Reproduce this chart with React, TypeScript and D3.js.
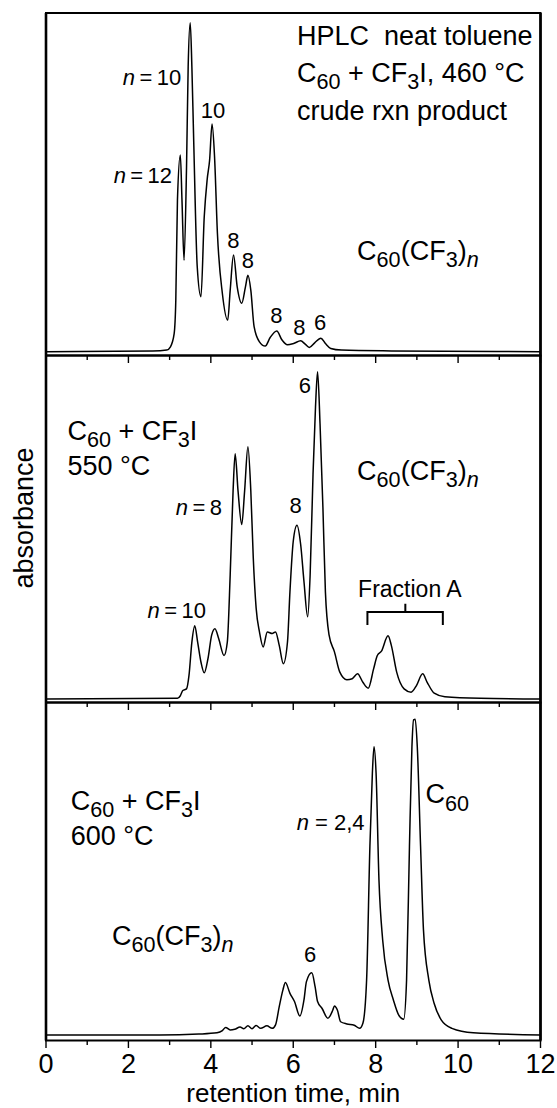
import * as d3 from 'd3';

// retention time (min), relative absorbance (0 = baseline, 100 = tallest peak of the panel)
const trace460: [number, number][] = [
  [0, 0], [2.59, 0.2], [2.93, 0.5], [3.02, 1.5], [3.11, 5.5], [3.15, 15.7], [3.19, 46.1],
  [3.26, 59.8], [3.3, 46], [3.35, 27.8], [3.41, 56], [3.45, 86.6], [3.5, 100], [3.54, 86.6],
  [3.58, 66.4], [3.67, 25.8], [3.76, 16.7], [3.84, 41], [3.91, 52.2], [3.97, 58.2], [4.03, 69.2],
  [4.09, 59.3], [4.16, 35.9], [4.28, 17.7], [4.41, 9.6], [4.47, 18.7], [4.55, 29.4], [4.64, 19.7],
  [4.75, 14.7], [4.84, 19.7], [4.9, 23.2], [4.97, 18.7], [5.05, 7.6], [5.18, 3.0], [5.32, 1.7],
  [5.44, 4.3], [5.6, 6.3], [5.72, 3.7], [5.86, 2.1], [6.01, 2.5], [6.18, 3.3], [6.29, 2.3],
  [6.39, 1.3], [6.52, 2.7], [6.67, 4.1], [6.78, 2.5], [6.91, 1.0], [7.17, 0.5], [8.38, 0.25], [12, 0],
];

const trace550: [number, number][] = [
  [0, 0], [3.19, 0.2], [3.26, 1], [3.32, 2.6], [3.41, 3.1], [3.47, 7.2], [3.54, 17.4], [3.61, 22.4],
  [3.68, 17.4], [3.76, 11.3], [3.84, 8], [3.93, 12.3], [4.02, 19.5], [4.1, 21.5], [4.19, 18.5],
  [4.32, 13.3], [4.4, 17.4], [4.47, 38], [4.54, 63.6], [4.59, 74.9], [4.66, 63.6], [4.75, 53.3],
  [4.82, 63.6], [4.9, 77.1], [4.97, 63.6], [5.03, 43.1], [5.1, 27.7], [5.18, 20.5], [5.27, 15.9],
  [5.37, 20.5], [5.49, 20], [5.57, 20.5], [5.66, 16.4], [5.76, 10.8], [5.86, 17.4], [5.92, 32.8],
  [6.0, 48.2], [6.09, 53.1], [6.18, 47.2], [6.26, 35.9], [6.35, 25.1], [6.41, 38], [6.48, 68.7],
  [6.54, 89.2], [6.59, 100], [6.65, 84.1], [6.72, 58.5], [6.78, 32.8], [6.87, 19.5], [7.0, 14.4],
  [7.13, 8.2], [7.3, 5.9], [7.43, 6.2], [7.56, 7.7], [7.69, 5.1], [7.82, 3.3], [7.95, 9.2],
  [8.04, 13.3], [8.14, 14.6], [8.3, 19.3], [8.38, 16.4], [8.51, 8.2], [8.69, 3.1], [8.86, 2.1],
  [8.99, 4.1], [9.14, 7.7], [9.25, 5.1], [9.42, 1.8], [9.68, 0.7], [10.54, 0.2], [12, 0],
];

const trace600: [number, number][] = [
  [0, 0], [2.76, 0], [3.71, 0.3], [4.15, 0.7], [4.28, 1.4], [4.36, 2.4], [4.47, 1.6], [4.58, 1.8],
  [4.71, 2.5], [4.8, 2.0], [4.9, 2.9], [5.0, 2.0], [5.1, 3.0], [5.21, 2.1], [5.36, 2.9], [5.49, 2.1],
  [5.57, 3.2], [5.66, 9], [5.75, 14.3], [5.81, 16.6], [5.92, 13.2], [6.03, 10.6], [6.16, 6.0],
  [6.26, 11.1], [6.32, 16.9], [6.45, 19.7], [6.53, 15.3], [6.59, 10.6], [6.7, 8.4], [6.84, 5.3],
  [6.96, 7.9], [7.0, 9.2], [7.07, 7.9], [7.15, 4.2], [7.3, 3.5], [7.48, 3.1], [7.61, 2.1],
  [7.69, 3.7], [7.78, 17.4], [7.86, 59.7], [7.92, 82.9], [7.96, 91.3], [8.01, 82.9], [8.08, 49.1],
  [8.17, 30.1], [8.3, 17.4], [8.43, 11.1], [8.56, 6.3], [8.68, 5.0], [8.75, 17.4], [8.82, 59.7],
  [8.88, 91.3], [8.92, 99.8], [8.96, 100], [9.01, 91.3], [9.09, 59.7], [9.16, 33.3], [9.29, 17.4],
  [9.42, 10], [9.59, 4.8], [9.85, 2.1], [10.37, 0.7], [12, 0],
];

const tickLabels = ['0', '2', '4', '6', '8', '10', '12'];

// annotation text: _{..} subscript, ~{..} italic, %{..} italic subscript
type Note = { text: string; t: number; v: number; kind: 'big' | 'small' | 'mid'; anchor?: string };

const notes460: Note[] = [
  { text: 'HPLC  neat toluene', t: 6.09, v: 93.2, kind: 'big' },
  { text: 'C_{60} + CF_{3}I, 460 °C', t: 6.09, v: 82.1, kind: 'big' },
  { text: 'crude rxn product', t: 6.09, v: 70.4, kind: 'big' },
  { text: 'C_{60}(CF_{3})%{n}', t: 7.55, v: 27.9, kind: 'big' },
  { text: '~{n}\u2009=\u200910', t: 3.28, v: 81.1, kind: 'small', anchor: 'end' },
  { text: '~{n}\u2009=\u200912', t: 3.06, v: 51.4, kind: 'small', anchor: 'end' },
  { text: '10', t: 4.05, v: 70.9, kind: 'small', anchor: 'middle' },
  { text: '8', t: 4.55, v: 31.4, kind: 'small', anchor: 'middle' },
  { text: '8', t: 4.9, v: 25.3, kind: 'small', anchor: 'middle' },
  { text: '8', t: 5.59, v: 8.6, kind: 'small', anchor: 'middle' },
  { text: '8', t: 6.15, v: 5.1, kind: 'small', anchor: 'middle' },
  { text: '6', t: 6.65, v: 6.6, kind: 'small', anchor: 'middle' },
];

const notes550: Note[] = [
  { text: 'C_{60} + CF_{3}I', t: 0.52, v: 79.1, kind: 'big' },
  { text: '550 °C', t: 0.52, v: 68.4, kind: 'big' },
  { text: 'C_{60}(CF_{3})%{n}', t: 7.55, v: 66.9, kind: 'big' },
  { text: '6', t: 6.28, v: 93.6, kind: 'small', anchor: 'middle' },
  { text: '~{n}\u2009=\u20098', t: 4.27, v: 56.2, kind: 'small', anchor: 'end' },
  { text: '8', t: 6.06, v: 56.7, kind: 'small', anchor: 'middle' },
  { text: '~{n}\u2009=\u200910', t: 3.88, v: 24.7, kind: 'small', anchor: 'end' },
  { text: 'Fraction A', t: 8.83, v: 31.3, kind: 'mid', anchor: 'middle' },
];

const notes600: Note[] = [
  { text: 'C_{60} + CF_{3}I', t: 0.6, v: 71.3, kind: 'big' },
  { text: '600 °C', t: 0.6, v: 60.2, kind: 'big' },
  { text: '~{n} = 2,4', t: 7.73, v: 64.9, kind: 'small', anchor: 'end' },
  { text: 'C_{60}', t: 9.21, v: 73.4, kind: 'big' },
  { text: 'C_{60}(CF_{3})%{n}', t: 1.6, v: 28.5, kind: 'big' },
  { text: '6', t: 6.41, v: 23.2, kind: 'small', anchor: 'middle' },
];

// Fraction A bracket: start, centre, end (min); bar level, leg bottom, stem top
const fractionA = { t0: 7.8, tc: 8.72, t1: 9.63, bar: 26.6, leg: 22.6, stem: 29.1 };

const W = 557;
const H = 1108;
const FONT = 'Liberation Sans, Arial, Helvetica, sans-serif';
const sizes = { big: 27, mid: 23, small: 22 };

const x = d3.scaleLinear().domain([0, 12]).range([46, 540.5]);

const panels = [
  { trace: trace460, notes: notes460, top: 13, bottom: 355.5, y: d3.scaleLinear().domain([0, 100]).range([351.7, 22.7]) },
  { trace: trace550, notes: notes550, top: 355.5, bottom: 702.5, y: d3.scaleLinear().domain([0, 100]).range([699, 371.7]) },
  { trace: trace600, notes: notes600, top: 702.5, bottom: 1040.5, y: d3.scaleLinear().domain([0, 100]).range([1035, 719.3]) },
];

function parse(text: string) {
  const segs: { s: string; sub?: boolean; it?: boolean }[] = [];
  const re = /_\{([^}]*)\}|~\{([^}]*)\}|%\{([^}]*)\}|[^_~%]+/g;
  let m: RegExpExecArray | null;
  while ((m = re.exec(text))) {
    if (m[1] !== undefined) segs.push({ s: m[1], sub: true });
    else if (m[2] !== undefined) segs.push({ s: m[2], it: true });
    else if (m[3] !== undefined) segs.push({ s: m[3], sub: true, it: true });
    else segs.push({ s: m[0] });
  }
  return segs;
}

function Rich({ px, py, size, text, anchor }: { px: number; py: number; size: number; text: string; anchor?: string }) {
  let cur = 0;
  return (
    <text x={px} y={py} fontSize={size} textAnchor={anchor || 'start'} style={{ whiteSpace: 'pre' }} fill="#000">
      {parse(text).map((g, i) => {
        const target = g.sub ? size * 0.27 : 0;
        const dy = target - cur;
        cur = target;
        return (
          <tspan key={i} dy={dy} fontSize={g.sub ? size * 0.8 : size} fontStyle={g.it ? 'italic' : 'normal'}>
            {g.s}
          </tspan>
        );
      })}
    </text>
  );
}

export default function App() {
  const ticks = x.ticks(12);
  return (
    <svg width={W} height={H} style={{ position: 'absolute', left: 0, top: 0, background: '#fff' }} fontFamily={FONT}>
      <rect width={W} height={H} fill="#fff" />
      {panels.map((p, pi) => {
        const line = d3.line<[number, number]>()
          .x(d => x(d[0]))
          .y(d => p.y(d[1]))
          .curve(d3.curveMonotoneX);
        return (
          <g key={pi}>
            <path d={line(p.trace) || ''} fill="none" stroke="#000" strokeWidth={1.5} strokeLinejoin="round" />
            <rect x={x(0)} y={p.top} width={x(12) - x(0)} height={p.bottom - p.top} fill="none" stroke="#000" strokeWidth={2} />
            {ticks.map(t => (
              <line key={t} x1={x(t)} x2={x(t)} y1={p.bottom} y2={p.bottom + (t % 2 === 0 ? 7.5 : 4.5)} stroke="#000" strokeWidth={1.4} />
            ))}
            {p.notes.map((n, i) => (
              <Rich key={i} px={x(n.t)} py={p.y(n.v)} size={sizes[n.kind]} text={n.text} anchor={n.anchor} />
            ))}
          </g>
        );
      })}
      {/* vertical frame lines a bit heavier */}
      <line x1={x(0)} x2={x(0)} y1={13} y2={1040.5} stroke="#000" strokeWidth={2.6} />
      <line x1={x(12)} x2={x(12)} y1={13} y2={1040.5} stroke="#000" strokeWidth={2.6} />
      {/* Fraction A bracket */}
      <path
        d={`M${x(fractionA.t0)},${panels[1].y(fractionA.leg)} V${panels[1].y(fractionA.bar)} H${x(fractionA.t1)} V${panels[1].y(fractionA.leg)} M${x(fractionA.tc)},${panels[1].y(fractionA.bar)} V${panels[1].y(fractionA.stem)}`}
        fill="none"
        stroke="#000"
        strokeWidth={2}
      />
      {tickLabels.map((l, i) => (
        <text key={l} x={x(i * 2)} y={1073} fontSize={27} textAnchor="middle" fill="#000">{l}</text>
      ))}
      <text x={(x(0) + x(12)) / 2} y={1102} fontSize={26} textAnchor="middle" fill="#000">retention time, min</text>
      <text transform="translate(33,518) rotate(-90)" fontSize={27} textAnchor="middle" fill="#000">absorbance</text>
    </svg>
  );
}
